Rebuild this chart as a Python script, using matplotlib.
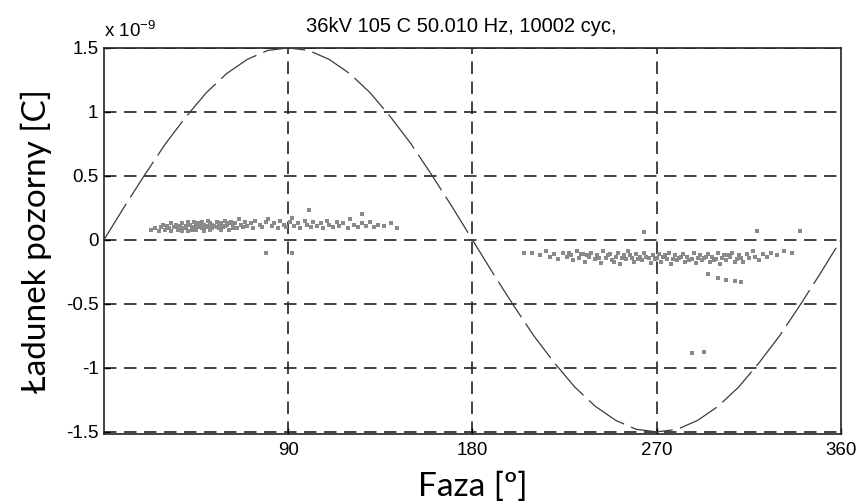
import matplotlib
matplotlib.use("Agg")
import matplotlib.pyplot as plt
import numpy as np

# reference sine (read every 10 deg), units 1e-9 C
sine_phase = list(range(0, 361, 10))
sine_q = [0.0, 0.26, 0.51, 0.75, 0.96, 1.15, 1.30, 1.41, 1.48, 1.50,
          1.48, 1.41, 1.30, 1.15, 0.96, 0.75, 0.51, 0.26, 0.0,
          -0.26, -0.51, -0.75, -0.96, -1.15, -1.30, -1.41, -1.48, -1.50,
          -1.48, -1.41, -1.30, -1.15, -0.96, -0.75, -0.51, -0.26, 0.0]

# positive half-cycle discharges
pos_phase = [23, 25, 27, 28, 30, 31, 32, 33, 34, 35, 36, 37, 38, 39, 40, 41, 42, 43, 44, 45,
             46, 47, 48, 49, 50, 51, 52, 53, 54, 55, 56, 57, 58, 59, 60, 61, 62, 63, 64, 65,
             66, 67, 68, 69, 70, 72, 73, 74, 76, 77, 79, 80, 82, 83, 85, 86, 88, 89, 91, 92,
             93, 95, 96, 98, 99, 101, 102, 104, 106, 107, 109, 110, 112, 114, 115, 117, 119, 120, 122, 124,
             126, 128, 130, 132, 134, 137, 140, 143,
             29, 33, 36, 38, 41, 43, 45, 47, 49, 51, 53, 55, 57, 59, 61, 63, 44, 48, 52, 56, 40, 35,
             100, 126, 79, 92]
pos_q = [0.08, 0.09, 0.07, 0.10, 0.08, 0.11, 0.09, 0.07, 0.10, 0.12, 0.08, 0.10, 0.13, 0.09, 0.11, 0.07, 0.12, 0.10, 0.14, 0.08,
         0.11, 0.13, 0.09, 0.12, 0.10, 0.15, 0.08, 0.12, 0.11, 0.14, 0.09, 0.13, 0.10, 0.15, 0.12, 0.08, 0.14, 0.11, 0.13, 0.09,
         0.16, 0.12, 0.10, 0.14, 0.11, 0.13, 0.09, 0.15, 0.12, 0.10, 0.14, 0.16, 0.11, 0.13, 0.09, 0.15, 0.12, 0.10, 0.14, 0.17,
         0.11, 0.13, 0.09, 0.15, 0.12, 0.10, 0.14, 0.11, 0.13, 0.09, 0.15, 0.12, 0.10, 0.14, 0.11, 0.13, 0.09, 0.16, 0.12, 0.10,
         0.13, 0.11, 0.14, 0.10, 0.12, 0.11, 0.13, 0.09,
         0.12, 0.13, 0.11, 0.07, 0.14, 0.08, 0.13, 0.10, 0.07, 0.11, 0.09, 0.10, 0.08, 0.11, 0.13, 0.09, 0.10, 0.14, 0.13, 0.12, 0.09, 0.10,
         0.23, 0.20, -0.10, -0.10]

# negative half-cycle discharges
neg_phase = [205, 209, 213, 216, 218, 220, 222, 224, 226, 228, 229, 231, 232, 234, 235, 237, 238, 240, 241, 243,
             244, 245, 247, 248, 250, 251, 252, 254, 255, 256, 258, 259, 260, 262, 263, 264, 266, 267, 268, 269,
             271, 272, 273, 275, 276, 277, 279, 280, 281, 283, 284, 285, 287, 288, 289, 291, 292, 293, 295, 296,
             297, 299, 300, 301, 303, 304, 306, 307, 309, 310, 312, 314, 315, 317, 318, 320, 322, 324, 326, 329,
             332, 336,
             242, 246, 249, 253, 257, 261, 265, 270, 274, 278, 282, 286, 290, 294, 298, 302, 305, 308, 311, 236, 233, 227,
             295, 300, 304, 308, 311,
             319, 340, 287, 293, 264]
neg_q = [-0.10, -0.10, -0.12, -0.09, -0.13, -0.11, -0.15, -0.10, -0.13, -0.12, -0.16, -0.09, -0.14, -0.11, -0.17, -0.13, -0.10, -0.15, -0.12, -0.18,
         -0.09, -0.14, -0.11, -0.16, -0.13, -0.10, -0.19, -0.12, -0.15, -0.09, -0.14, -0.17, -0.11, -0.13, -0.16, -0.10, -0.14, -0.18, -0.12, -0.15,
         -0.11, -0.17, -0.13, -0.15, -0.10, -0.19, -0.12, -0.16, -0.14, -0.11, -0.17, -0.13, -0.15, -0.10, -0.18, -0.12, -0.16, -0.14, -0.11, -0.17,
         -0.13, -0.15, -0.10, -0.19, -0.12, -0.16, -0.13, -0.10, -0.15, -0.12, -0.17, -0.11, -0.14, -0.09, -0.13, -0.16, -0.11, -0.13, -0.10, -0.12,
         -0.09, -0.10,
         -0.14, -0.12, -0.17, -0.14, -0.12, -0.15, -0.13, -0.14, -0.12, -0.15, -0.13, -0.16, -0.14, -0.13, -0.16, -0.14, -0.12, -0.17, -0.14, -0.12, -0.11, -0.10,
         -0.27, -0.30, -0.31, -0.32, -0.33,
         0.07, 0.07, -0.88, -0.875, 0.06]

x_ticks = [90, 180, 270, 360]
y_ticks = [-1.5, -1, -0.5, 0, 0.5, 1, 1.5]
y_ticklabels = ['-1.5', '-1', '-0.5', '0', '0.5', '1', '1.5']

fig = plt.figure(figsize=(8.59, 5.04), dpi=100)
ax = fig.add_axes([0.121, 0.139, 0.858, 0.766])

ax.plot(sine_phase, sine_q, color='#3a3a3a', lw=0.9, dashes=(34, 6), zorder=3)
ax.scatter(pos_phase, pos_q, s=5, marker='s', color='#8a8a8a', linewidths=0, zorder=2)
ax.scatter(neg_phase, neg_q, s=5, marker='s', color='#8a8a8a', linewidths=0, zorder=2)

ax.set_xlim(0, 360)
ax.set_ylim(-1.516, 1.5)
ax.set_xticks(x_ticks)
ax.set_yticks(y_ticks)
ax.set_yticklabels(y_ticklabels)
ax.tick_params(direction='in', length=4, width=1, labelsize=13.5, colors='black',
               top=False, right=False)
ax.tick_params(axis='x', pad=6)
ax.tick_params(axis='y', pad=4)
for lab in ax.get_xticklabels() + ax.get_yticklabels():
    lab.set_family('Liberation Sans')

for v in x_ticks[:-1]:
    ax.axvline(v, color='#222222', lw=1.2, dashes=(7.5, 4.5), zorder=1)
for v in y_ticks:
    ax.axhline(v, color='#222222', lw=1.2, dashes=(7.5, 4.5), zorder=1)

for sp in ax.spines.values():
    sp.set_linewidth(1.2)
    sp.set_color('#222222')

fig.text(0.537, 0.948, '36kV 105 C 50.010 Hz, 10002 cyc,', fontsize=14.5,
         family='Liberation Sans', ha='center', va='center')
fig.text(0.121, 0.927, r'x 10$^{\mathregular{-9}}$', fontsize=13.5, family='Liberation Sans')

ax.set_xlabel('Faza [º]', fontsize=24, family='Lato', labelpad=9)
ax.set_ylabel('Ładunek pozorny [C]', fontsize=24, family='Lato', labelpad=10)

fig.savefig('out.png', dpi=100)
